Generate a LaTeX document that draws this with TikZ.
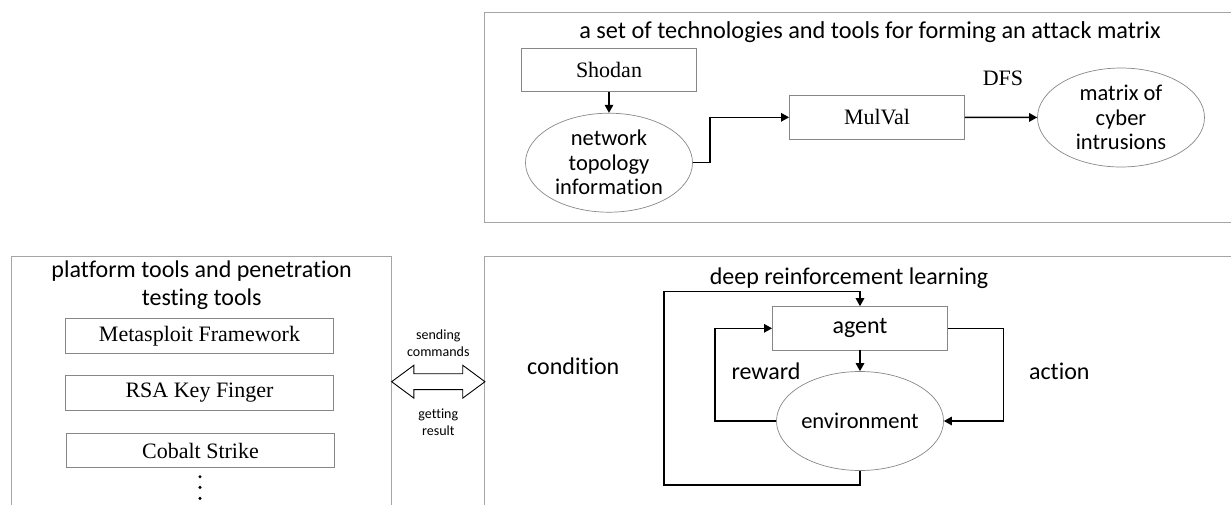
\documentclass[tikz,border=0pt]{standalone}
\usepackage{fontspec}
\setmainfont{Liberation Serif}
\newfontfamily\calibfont[Ligatures=NoCommon]{Carlito}
\usetikzlibrary{arrows.meta,shapes.geometric,shapes.arrows}
\definecolor{framegray}{RGB}{165,165,165}
\definecolor{boxgray}{RGB}{135,135,135}

\begin{document}
\begin{tikzpicture}[x=1pt,y=-1pt,
    frame/.style={draw=framegray,line width=1pt},
    serif/.style={font=\fontsize{22}{24}\selectfont},
    toolbox/.style={rectangle,draw=boxgray,line width=0.9pt,minimum width=268pt,minimum height=34.5pt,inner sep=0pt,serif},
    stepbox/.style={rectangle,draw=boxgray,line width=0.9pt,minimum width=175pt,minimum height=43.3pt,inner sep=0pt},
    ellnode/.style={ellipse,draw=boxgray,line width=0.7pt,minimum width=167pt,minimum height=99pt,inner sep=0pt,align=center,font=\calibfont\fontsize{22.5}{24.5}\selectfont},
    lbl/.style={font=\calibfont\fontsize{24}{27.6}\selectfont,align=center,inner sep=0pt},
    small lbl/.style={font=\calibfont\fontsize{14}{16.7}\selectfont,align=center,inner sep=0pt},
    arr/.style={-{Triangle[length=8pt,width=8.5pt]},line width=1.4pt}]
    \useasboundingbox (0,0) rectangle (1231,504);
    \draw [frame] (484,12.7) rectangle (1245,222.7);
    \draw [frame] (11.7,256.7) rectangle (391.7,520);
    \draw [frame] (484,256.7) rectangle (1245,520);
    \node [lbl,font=\calibfont\fontsize{24.3}{27.6}\selectfont] (techtitle) at (870,32) {a set of technologies and tools for forming an attack matrix};
    \node [stepbox,serif] (shodan) at (609,70) {Shodan};
    \node [ellnode] (topo) at (609,162.7) {network\\topology\\information};
    \node [stepbox,serif] (mulval) at (877,117.3) {MulVal};
    \node [ellnode] (intrusion) at (1121,117.5) {matrix of\\cyber\\intrusions};
    \node [serif] (dfs) at (1003,78.3) {DFS};
    \path [arr] (shodan) edge (topo);
    \draw [arr] (topo.east) -- ++(17,0) |- (mulval.west);
    \path [arr] (mulval) edge (intrusion);
    \node [lbl] (tooltitle) at (201.7,285.5) {platform tools and penetration\\testing tools};
    \node [toolbox] (metasploit) at (199.5,335.8) {Metasploit Framework};
    \node [toolbox] (rsakey) at (199.5,392.8) {RSA Key Finger};
    \node [toolbox] (cobalt) at (200.5,450.5) {Cobalt Strike};
    \foreach \y in {476.7,487.3,498.3}
        \fill (200,\y) circle (1.7);
    \node [double arrow,draw=black,fill=white,line width=0.9pt,minimum height=93.3pt,inner xsep=0pt,inner ysep=7.5pt,double arrow head extend=8.5pt,double arrow tip angle=73] (cmd) at (438.3,381.7) {};
    \node [small lbl] (sending) at (438.3,343.3) {sending\\commands};
    \node [small lbl] (getting) at (438.3,422) {getting\\result};
    \node [lbl] (drltitle) at (849,278.3) {deep reinforcement learning};
    \node [lbl] (condition) at (573.3,366.7) {condition};
    \node [stepbox,font=\calibfont\fontsize{24}{26}\selectfont] (agent) at (860,328.3) {agent};
    \node [ellnode] (env) at (860,421) {environment};
    \node [lbl] (reward) at (766,371.7) {reward};
    \node [lbl] (action) at (1059.3,371.7) {action};
    \coordinate (drlcorner) at (664,291.7);
    \draw [arr] (env.south) -- ++(0,14.3) -| (drlcorner) -| (agent.north);
    \path [arr] (agent) edge (env);
    \draw [arr] (env.west) -- ++(-61,0) |- (agent.west);
    \draw [arr] (agent.east) -- ++(55.6,0) |- (env.east);
\end{tikzpicture}
\end{document}
